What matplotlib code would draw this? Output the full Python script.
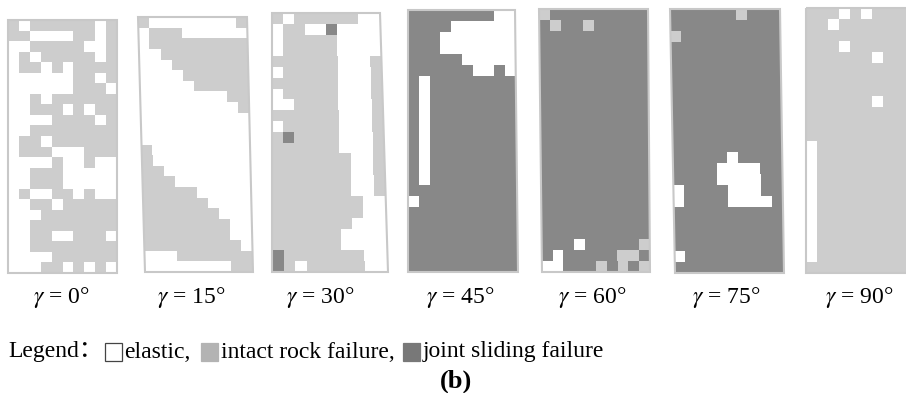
import numpy as np
import matplotlib
matplotlib.use('Agg')
import matplotlib.pyplot as plt
from matplotlib.colors import ListedColormap
from matplotlib.patches import Polygon, Rectangle

plt.rcParams['font.family'] = ['Liberation Serif', 'Noto Sans CJK SC', 'DejaVu Sans']
plt.rcParams['mathtext.fontset'] = 'stix'

# ---- data: failure state of each element (0 elastic, 1 intact rock failure, 2 joint sliding failure)
angles = [0, 15, 30, 45, 60, 75, 90]

g0 = ["1011111101", "1100001101", "0011111001", "0101111101", "0110101111",
      "0000001101", "0000001110", "0010111111", "0011101011", "0000111101",
      "0011111111", "0110111111", "0111000111", "0000100100", "0011100000",
      "0011100000", "0100110100", "0011011111", "0001111111", "0011111111",
      "0011001110", "0011111111", "0000111111", "0001101010"]

g15 = ["1000000001", "0111000000", "0111111111", "0011111111", "0001111111",
       "0000111111", "0000011111", "0000000011", "0000000001", "0000000000",
       "0000000000", "0000000000", "1000000000", "1000000000", "1100000000",
       "1110000000", "1111100000", "1111110000", "1111111000", "1111111100",
       "1111111100", "1111111110", "0001111111", "0000000011"]

g30 = ["1011111100", "0110020000", "0111110000", "0111110000", "1111110001",
       "0111110001", "1111110001", "0111110001", "0011110001", "1111110001",
       "0111110001", "1211110001", "1111110001", "1111111001", "1111111001",
       "1111111001", "1111111001", "1111111100", "1111111100", "1111111000",
       "1111110000", "1111110000", "2111111100", "2101111100"]

g45 = ["2222222200", "2222000000", "2220000000", "2220000000", "2222200000",
       "2222220020", "2022222222", "2022222222", "2022222222", "2022222222",
       "2022222222", "2022222222", "2022222222", "2022222222", "2022222222",
       "2022222222", "2222222222", "0222222222", "2222222222", "2222222222",
       "2222222222", "2222222222", "2222222222", "2222222222"]

g60 = ["1222222222", "2122122222", "2222222222", "2222222222", "2222222222",
       "2222222222", "2222222222", "2222222222", "2222222222", "2222222222",
       "2222222222", "2222222222", "2222222222", "2222222222", "2222222222",
       "2222222222", "2222222222", "2222222222", "2222222222", "2222222222",
       "2222222222", "2220222221", "2022222112", "0022212121"]

g75 = ["2222221222", "2222222222", "1222222222", "2222222222", "2222222222",
       "2222222222", "2222222222", "2222222222", "2222222222", "2222222222",
       "2222222222", "2222222222", "2222222222", "2222202222", "2222000022",
       "2222000022", "0222200022", "0222200002", "2222222222", "2222222222",
       "2222222222", "2222222222", "0222222222", "2222222222"]

g90 = ["1110101111", "1101111111", "1111111111", "1110111111", "1111110111",
       "1111111111", "1111111111", "1111111111", "1111110111", "1111111111",
       "1111111111", "1111111111", "0111111111", "0111111111", "0111111111",
       "0111111111", "0111111111", "0111111111", "0111111111", "0111111111",
       "0111111111", "0111111111", "0111111111", "1111111111"]

grids = [g0, g15, g30, g45, g60, g75, g90]
legend_labels = ["elastic,", "intact rock failure,", "joint sliding failure"]

# ---- layout (deformed panel corners in pixels: TL, TR, BL, BR)
corners = [
    ((8, 20), (117, 20), (8, 273), (117, 273)),
    ((138, 17), (247, 17), (145, 272), (253, 272)),
    ((272, 13), (380, 13), (272, 272), (388, 272)),
    ((408, 10), (515, 10), (408, 272), (518, 272)),
    ((539, 9), (648, 9), (542, 272), (650, 272)),
    ((670, 9), (780, 9), (675, 273), (784, 273)),
    ((806, 8), (916, 8), (806, 273), (916, 273)),
]
label_x = [61, 191, 320, 460, 592, 726, 859]

W, H = 906, 393
fig = plt.figure(figsize=(W / 100, H / 100), dpi=100)
ax = fig.add_axes([0, 0, 1, 1])
ax.set_xlim(0, W)
ax.set_ylim(H, 0)
ax.axis('off')

colors = ['#ffffff', '#cdcdcd', '#888888']
cmap = ListedColormap(colors)


def mesh(c, nr, nc):
    tl, tr, bl, br = [np.array(p, float) for p in c]
    u = np.linspace(0, 1, nc + 1)
    v = np.linspace(0, 1, nr + 1)
    U, V = np.meshgrid(u, v)
    P = ((1 - V)[..., None] * ((1 - U)[..., None] * tl + U[..., None] * tr)
         + V[..., None] * ((1 - U)[..., None] * bl + U[..., None] * br))
    return P[..., 0], P[..., 1]


for g, c, a, lx in zip(grids, corners, angles, label_x):
    arr = np.array([[int(ch) for ch in row] for row in g])
    X, Y = mesh(c, arr.shape[0], arr.shape[1])
    ax.pcolormesh(X, Y, arr, cmap=cmap, vmin=-0.5, vmax=2.5, shading='flat',
                  antialiased=False, edgecolors='none', linewidth=0)
    tl, tr, bl, br = c
    ax.add_patch(Polygon([tl, tr, br, bl], closed=True, fill=False,
                         edgecolor='#c8c8c8', lw=1.5))
    ax.text(lx, 297, rf'$\gamma$ = {a}°', ha='center', va='center', fontsize=17)

# ---- legend row
fig.canvas.draw()
r = fig.canvas.get_renderer()
inv = ax.transData.inverted()
y_leg = 352
x = 8
t = ax.text(x, y_leg, 'Legend：', ha='left', va='center', fontsize=17)
bb = t.get_window_extent(r)
x = inv.transform((bb.x1, 0))[0] + 2
box_fc = ['#ffffff', '#b3b3b3', '#787878']
gaps = [0, 10, 8]
for fc, lab, gp in zip(box_fc, legend_labels, gaps):
    x += gp
    ax.add_patch(Rectangle((x, y_leg - 9), 17, 18, facecolor=fc,
                           edgecolor='#444444' if fc == '#ffffff' else fc, lw=0.9))
    x += 20
    t = ax.text(x, y_leg, lab, ha='left', va='center', fontsize=17)
    bb = t.get_window_extent(r)
    x = inv.transform((bb.x1, 0))[0]

ax.text(456, 381, '(b)', ha='center', va='center', fontsize=19, fontweight='bold')

fig.savefig('out.png', dpi=100)
